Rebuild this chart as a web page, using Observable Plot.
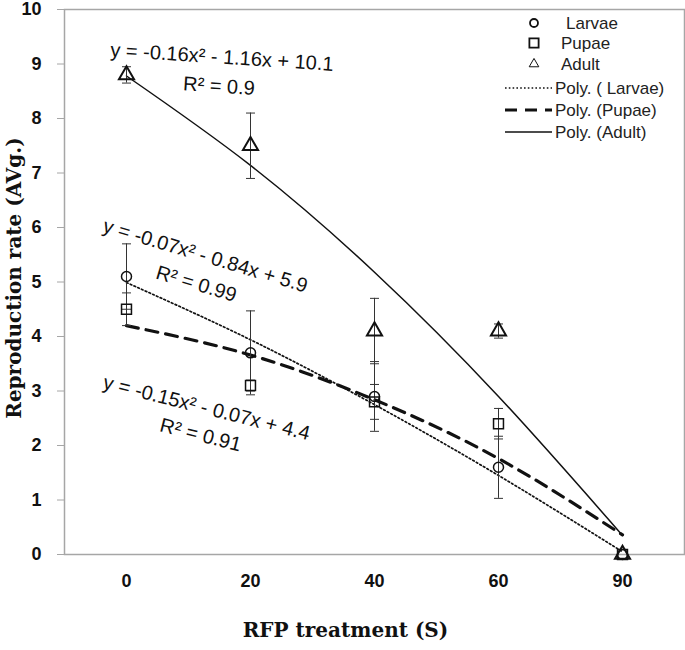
<!DOCTYPE html>
<html><head><meta charset="utf-8">
<script src="https://cdn.jsdelivr.net/npm/d3@7"></script>
<script src="https://cdn.jsdelivr.net/npm/@observablehq/plot@0.6"></script>
<style>
body{margin:0;background:#fff;}
#wrap{position:relative;width:685px;height:650px;}
#legend{position:absolute;left:0;top:0;}
g[aria-label="y-axis tick"]{stroke:#a6a6a6;}
g[aria-label="y-axis tick label"], g[aria-label="x-axis tick label"]{font:bold 18px "Liberation Sans",Arial,sans-serif;fill:#111;}
</style></head><body><div id="wrap"></div>
<script>
// ---- data ----
const treatments = ["0", "20", "40", "60", "90"];
const larvae    = [5.1, 3.7, 2.9, 1.6, 0];
const larvaeErr = [0.6, 0.77, 0.64, 0.57, 0];
const pupae     = [4.5, 3.1, 2.8, 2.4, 0];
const pupaeErr  = [0.3, 0.1, 0.32, 0.28, 0];
const adult     = [8.8, 7.5, 4.1, 4.1, 0];
const adultErr  = [0.15, 0.6, 0.6, 0.13, 0];
// polynomial trendline heights read at each treatment
const larvaeTrend = [4.99, 3.94, 2.75, 1.45, 0.05];
const pupaeTrend  = [4.2, 3.66, 2.84, 1.76, 0.36];
const adultTrend  = [8.78, 7.14, 5.18, 2.9, 0.35];
const yTicks = [0, 1, 2, 3, 4, 5, 6, 7, 8, 9, 10];
const seriesNames = ["Larvae", "Pupae", "Adult"];
const trendNames = ["Poly. ( Larvae)", "Poly. (Pupae)", "Poly. (Adult)"];
const eqAdult  = ["y = -0.16x² - 1.16x + 10.1", "R² = 0.9"];
const eqLarvae = ["y = -0.07x² - 0.84x + 5.9", "R² = 0.99"];
const eqPupae  = ["y = -0.15x² - 0.07x + 4.4", "R² = 0.91"];
const xTitle = "RFP treatment (S)";
const yTitle = "Reproduction rate (AVg.)";

// ---- build tables ----
const rows = (vals, errs, name) => treatments.map((t, i) => ({series: name, x: t, y: vals[i], err: errs[i]}));
const L = rows(larvae, larvaeErr, "Larvae");
const P = rows(pupae, pupaeErr, "Pupae");
const A = rows(adult, adultErr, "Adult");
const all = [...L, ...P, ...A].filter(d => d.err > 0);
const trend = (vals) => treatments.map((t, i) => ({x: t, y: vals[i]}));

const cap = {draw(ctx) { ctx.moveTo(-4.5, 0); ctx.lineTo(4.5, 0); }};
const eqFont = {fontFamily: "'Liberation Sans', Arial, sans-serif", fontSize: 20, fill: "#111", textAnchor: "middle"};
const titleFont = {fontFamily: "'DejaVu Serif', serif", fontSize: 20, fontWeight: "bold", fill: "#111", textAnchor: "middle"};

const chart = Plot.plot({
  width: 685, height: 650,
  marginLeft: 64, marginRight: 1, marginTop: 9, marginBottom: 96,
  x: {type: "point", domain: treatments, label: null},
  y: {domain: [0, 10], label: null},
  marks: [
    Plot.frame({stroke: "#a6a6a6", strokeWidth: 1.5}),
    Plot.axisY({ticks: yTicks, tickSize: 7, tickPadding: 16, label: null}),
    Plot.axisX({tickSize: 0, tickPadding: 20, label: null}),
    // trendlines
    Plot.line(trend(larvaeTrend), {x: "x", y: "y", curve: "natural", stroke: "#111", strokeWidth: 1.7, strokeDasharray: "1.7,2.4"}),
    Plot.line(trend(pupaeTrend), {x: "x", y: "y", curve: "natural", stroke: "#111", strokeWidth: 3.2, strokeDasharray: "12,8"}),
    Plot.line(trend(adultTrend), {x: "x", y: "y", curve: "natural", stroke: "#111", strokeWidth: 1.5}),
    // error bars
    Plot.ruleX(all, {x: "x", y1: d => d.y - d.err, y2: d => d.y + d.err, stroke: "#333", strokeWidth: 1}),
    Plot.dot(all, {x: "x", y: d => d.y + d.err, symbol: cap, stroke: "#333", strokeWidth: 1}),
    Plot.dot(all, {x: "x", y: d => d.y - d.err, symbol: cap, stroke: "#333", strokeWidth: 1}),
    // markers
    Plot.dot(L, {x: "x", y: "y", symbol: "circle", r: 5, stroke: "#111", strokeWidth: 1.5, fill: "none"}),
    Plot.dot(P, {x: "x", y: "y", symbol: "square", r: 5.6, stroke: "#111", strokeWidth: 1.5, fill: "none"}),
    Plot.dot(A, {x: "x", y: "y", symbol: "triangle", r: 5.6, stroke: "#111", strokeWidth: 2, fill: "none"}),
    // equations
    Plot.text([eqAdult[0]], {frameAnchor: "top-left", dx: 158, dy: 40, rotate: 3.7, ...eqFont}),
    Plot.text([eqAdult[1]], {frameAnchor: "top-left", dx: 155, dy: 69, rotate: 3.7, ...eqFont}),
    Plot.text([eqLarvae[0]], {frameAnchor: "top-left", dx: 143, dy: 239, rotate: 16.7, ...eqFont}),
    Plot.text([eqLarvae[1]], {frameAnchor: "top-left", dx: 134, dy: 267, rotate: 16.7, ...eqFont}),
    Plot.text([eqPupae[0]], {frameAnchor: "top-left", dx: 144, dy: 391, rotate: 14.2, ...eqFont}),
    Plot.text([eqPupae[1]], {frameAnchor: "top-left", dx: 138, dy: 418, rotate: 14.2, ...eqFont}),
    // titles
    Plot.text([xTitle], {frameAnchor: "bottom", dx: -29, dy: 82, ...titleFont}),
    Plot.text([yTitle], {frameAnchor: "left", dx: -50, dy: -4, rotate: -90, ...titleFont})
  ]
});
document.getElementById("wrap").appendChild(chart);

// legend overlay
const leg = d3.select("#wrap").append("svg").attr("id", "legend").attr("width", 685).attr("height", 150);
const lf = "'Liberation Sans', Arial, sans-serif";
const symX = 534, rowsY = [23, 43, 64, 88, 110, 132];
const sym = [d3.symbolCircle, d3.symbolSquare, d3.symbolTriangle];
const symSize = [50, 85, 40];
seriesNames.forEach((n, i) => {
  leg.append("path").attr("d", d3.symbol(sym[i], symSize[i])()).attr("transform", `translate(${symX},${rowsY[i]})`)
    .attr("fill", "none").attr("stroke", "#111").attr("stroke-width", i === 2 ? 1 : 1.8);
  leg.append("text").attr("x", i === 0 ? 566 : 561).attr("y", rowsY[i]).attr("dy", "0.35em")
    .attr("font-family", lf).attr("font-size", 17).attr("fill", "#222").text(n);
});
const dashes = ["1.6,2.2", "12,8", null], widths = [1.6, 3.2, 1.3];
trendNames.forEach((n, i) => {
  const y = rowsY[i + 3];
  const l = leg.append("line").attr("x1", 505).attr("x2", 552).attr("y1", y).attr("y2", y)
    .attr("stroke", "#111").attr("stroke-width", widths[i]);
  if (dashes[i]) l.attr("stroke-dasharray", dashes[i]);
  leg.append("text").attr("x", 555).attr("y", y).attr("dy", "0.35em")
    .attr("font-family", lf).attr("font-size", 17).attr("fill", "#222").text(n);
});
</script></body></html>
